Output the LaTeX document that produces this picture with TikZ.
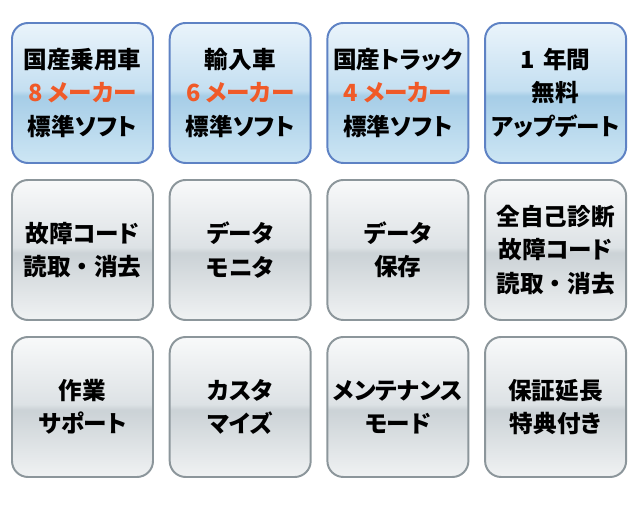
\documentclass[tikz,border=0pt]{standalone}
\usepackage{fontspec}
\usepackage{xcolor}
\usepackage{tikz}
\usetikzlibrary{calc}
\newfontfamily\jpfont[RawFeature=+palt]{Noto Sans CJK JP}
\newfontfamily\jpwide{Noto Sans CJK JP}
\newcommand{\Kdot}{{\jpwide\bfseries ・}} % full-width middle dot

\definecolor{blueedge}{HTML}{5E82C4}
\definecolor{grayedge}{HTML}{8C969B}
\definecolor{makerorange}{HTML}{F05A28}
\definecolor{blA}{HTML}{EAF4FB}
\definecolor{blB}{HTML}{C4DFF1}
\definecolor{blC}{HTML}{A6CDE7}
\definecolor{blD}{HTML}{CDE6F4}
\definecolor{grA}{HTML}{F8F9FA}
\definecolor{grB}{HTML}{DDE2E5}
\definecolor{grC}{HTML}{CBD2D6}
\definecolor{grD}{HTML}{F0F2F3}

\pgfdeclareverticalshading{bluegloss}{100bp}{color(0bp)=(blD); color(25bp)=(blD); color(49bp)=(blC); color(51bp)=(blB); color(75bp)=(blA); color(100bp)=(blA)}
\pgfdeclareverticalshading{graygloss}{100bp}{color(0bp)=(grD); color(25bp)=(grD); color(49bp)=(grC); color(51bp)=(grB); color(75bp)=(grA); color(100bp)=(grA)}

\begin{document}
\begin{tikzpicture}[
  tile/.style={rounded corners=0.4cm, minimum width=3.525cm, minimum height=3.5cm,
    inner sep=0pt, line width=1.4pt, align=center,
    font=\jpfont\bfseries\fontsize{16.8}{23.6}\selectfont},
  bluetile/.style={tile, draw=blueedge, shade, shading=bluegloss},
  graytile/.style={tile, draw=grayedge, shade, shading=graygloss}
]
\newcommand{\Colstep}{3.9425} % column spacing
\newcommand{\Rowstep}{3.925} % row spacing

\useasboundingbox (0,0) rectangle (16,13.175);

\coordinate (O) at (2.0625, 10.85); % centre of the first tile

% top row: software
\node[bluetile] (soft1) at (O) {国産乗用車\\{\color{makerorange}8 メーカー}\\標準ソフト};
\node[bluetile] (soft2) at ($(O)+(\Colstep,0)$) {輸入車\\{\color{makerorange}6 メーカー}\\標準ソフト};
\node[bluetile] (soft3) at ($(O)+(2*\Colstep,0)$) {国産トラック\\{\color{makerorange}4 メーカー}\\標準ソフト};
\node[bluetile] (soft4) at ($(O)+(3*\Colstep,0)$) {1\,\,年間\\無料\\アップデート};

% middle row
\node[graytile] (func1) at ($(O)+(0,-\Rowstep)$) {故障コード\\読取\Kdot 消去};
\node[graytile] (func2) at ($(O)+(\Colstep,-\Rowstep)$) {データ\\モニタ};
\node[graytile] (func3) at ($(O)+(2*\Colstep,-\Rowstep)$) {データ\\保存};
\node[graytile] (func4) at ($(O)+(3*\Colstep,-\Rowstep)$) {全自己診断\\故障コード\\読取\Kdot 消去};

% bottom row
\node[graytile] (extra1) at ($(O)+(0,-2*\Rowstep)$) {作業\\サポート};
\node[graytile] (extra2) at ($(O)+(\Colstep,-2*\Rowstep)$) {カスタ\\マイズ};
\node[graytile] (extra3) at ($(O)+(2*\Colstep,-2*\Rowstep)$) {メンテナンス\\モード};
\node[graytile] (extra4) at ($(O)+(3*\Colstep,-2*\Rowstep)$) {保証延長\\特典付き};
\end{tikzpicture}
\end{document}
